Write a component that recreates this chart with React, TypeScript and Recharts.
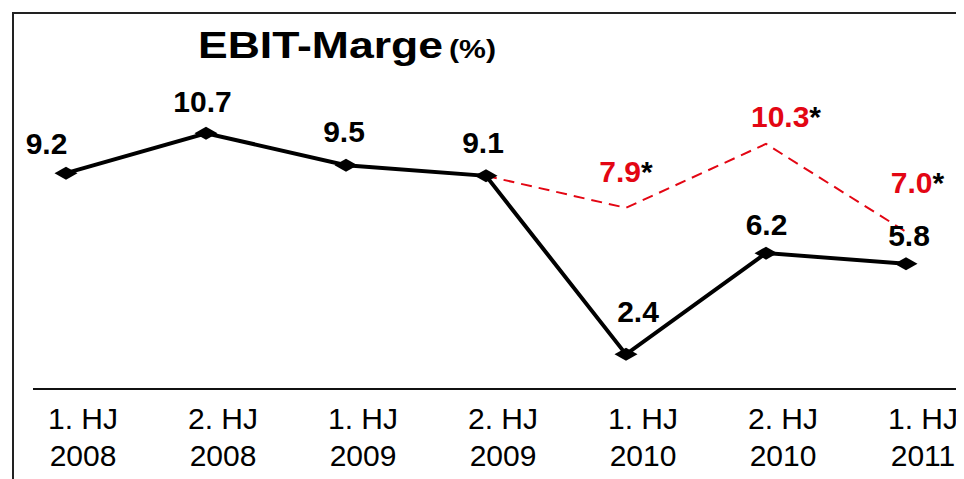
import React from "react";
import { LineChart, Line, XAxis, YAxis, LabelList } from "recharts";

const periods = ["1. HJ", "2. HJ", "1. HJ", "2. HJ", "1. HJ", "2. HJ", "1. HJ"];
const years = ["2008", "2008", "2009", "2009", "2010", "2010", "2011"];
const ebitMargin = [9.2, 10.7, 9.5, 9.1, 2.4, 6.2, 5.8];
const adjustedMargin: (number | null)[] = [null, null, null, 9.1, 7.9, 10.3, 7.0];
const adjustedLabels = ["", "", "", "", "7.9", "10.3", "7.0"];

// label nudges (dx, height of baseline above point)
const blackNudge: [number, number][] = [
  [-19.5, 19], [-3.5, 21], [-2, 23], [-3, 23], [12, 32], [0.5, 18], [3, 18],
];
const redNudge: [number, number][] = [
  [0, 0], [0, 0], [0, 0], [0, 0], [-6, 26], [14, 17], [5.5, 39],
];

const data = periods.map((p, i) => ({
  key: i,
  period: p,
  year: years[i],
  ebit: ebitMargin[i],
  adj: adjustedMargin[i],
}));

const RED = "#e30613";
const FONT = "'Liberation Sans', Arial, Helvetica, sans-serif";

const Diamond = (props: any) => {
  const { cx, cy } = props;
  if (cx == null || cy == null) return null;
  return (
    <polygon
      points={`${cx - 11.5},${cy} ${cx},${cy - 6.5} ${cx + 11.5},${cy} ${cx},${cy + 6.5}`}
      fill="#000"
    />
  );
};

const Tick = (props: any) => {
  const { x, y, payload } = props;
  const i = payload.index;
  return (
    <g>
      <text x={x + 17} y={y + 40} textAnchor="middle" fontSize={30} fontFamily={FONT} fill="#000">
        {periods[i]}
      </text>
      <text x={x + 17} y={y + 77} textAnchor="middle" fontSize={30} fontFamily={FONT} fill="#000">
        {years[i]}
      </text>
    </g>
  );
};

const BlackLabel = (props: any) => {
  const { x, y, index, value } = props;
  const [dx, dy] = blackNudge[index];
  return (
    <text x={x + dx} y={y - dy} textAnchor="middle" fontSize={30} fontWeight="bold" fontFamily={FONT} fill="#000">
      {Number(value).toFixed(1)}
    </text>
  );
};

const RedLabel = (props: any) => {
  const { x, y, index } = props;
  const txt = adjustedLabels[index];
  if (!txt) return null;
  const [dx, dy] = redNudge[index];
  return (
    <text x={x + dx + 6} y={y - dy} textAnchor="middle" fontSize={30} fontWeight="bold" fontFamily={FONT}>
      <tspan fill={RED}>{txt}</tspan>
      <tspan fill="#000">*</tspan>
    </text>
  );
};

export default function App() {
  return (
    <div style={{ position: "relative", width: 956, height: 471 }}>
      <div
        style={{
          position: "absolute",
          left: 4,
          top: 4,
          width: 960,
          height: 480,
          borderLeft: "2px solid #222",
          borderTop: "2px solid #222",
        }}
      />
      <svg width={956} height={80} style={{ position: "absolute", left: 0, top: 0 }}>
        <text x={190} y={50} fontSize={37} fontWeight="bold" fontFamily={FONT} fill="#000" textLength={245} lengthAdjust="spacingAndGlyphs">
          EBIT-Marge
        </text>
        <text x={441} y={50} fontSize={25} fontWeight="bold" fontFamily={FONT} fill="#000" textLength={47} lengthAdjust="spacingAndGlyphs">
          (%)
        </text>
      </svg>
      <div style={{ position: "absolute", left: 0, top: 0 }}>
        <LineChart width={956} height={471} data={data} margin={{ top: 24, right: 0, left: 25, bottom: 0 }}>
          <XAxis
            dataKey="key"
            height={90}
            padding={{ left: 33, right: 58 }}
            axisLine={{ stroke: "#111", strokeWidth: 2 }}
            tickLine={false}
            tickSize={0}
            tickMargin={0}
            interval={0}
            tick={<Tick />}
          />
          <YAxis hide type="number" domain={[1.1, 14.5]} />
          <Line
            dataKey="adj"
            stroke={RED}
            strokeWidth={2}
            strokeDasharray="11 7"
            dot={false}
            activeDot={false}
            isAnimationActive={false}
            connectNulls={false}
          >
            <LabelList dataKey="adj" content={<RedLabel />} />
          </Line>
          <Line
            dataKey="ebit"
            stroke="#000"
            strokeWidth={4}
            dot={<Diamond />}
            activeDot={false}
            isAnimationActive={false}
          >
            <LabelList dataKey="ebit" content={<BlackLabel />} />
          </Line>
        </LineChart>
      </div>
    </div>
  );
}
